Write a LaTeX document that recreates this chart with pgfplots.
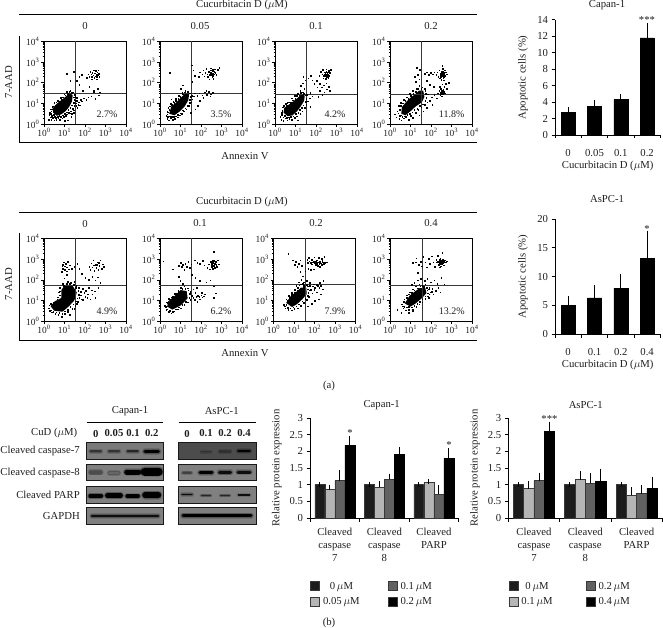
\documentclass[border=0pt]{standalone}
\usepackage{pgfplots}
\pgfplotsset{compat=1.18}
\usepackage{fontspec}
\setmainfont{Liberation Serif}
\definecolor{txt}{gray}{0.12}
\definecolor{cA}{gray}{0.11}
\definecolor{cB}{gray}{0.71}
\definecolor{cC}{gray}{0.38}
\definecolor{cD}{gray}{0.0}
\definecolor{edge}{gray}{0.22}
\newcommand{\fa}{\fontsize{10.7}{13.2}\selectfont\color{txt}}
\newcommand{\fb}{\fontsize{9.4}{10}\selectfont\color{txt}}
\newcommand{\fc}{\fontsize{10}{11}\selectfont\color{txt}}
\newcommand{\Mu}{$\mu$}
\newcommand{\dc}[1]{10\textsuperscript{#1}}
\pgfplotsset{flowbase/.style={scale only axis,width=82pt,height=82.5pt,
 xmin=0,xmax=4,ymin=0,ymax=4,xtick={0,1,2,3,4},ytick={0,1,2,3,4},xtick pos=bottom,ytick pos=left,
 xticklabels={\dc{0},\dc{1},\dc{2},\dc{3},\dc{4}},yticklabels={\dc{0},\dc{1},\dc{2},\dc{3},\dc{4}},
 minor xtick={0.30,0.48,0.60,0.70,0.78,0.85,0.90,0.95,1.30,1.48,1.60,1.70,1.78,1.85,1.90,1.95,2.30,2.48,2.60,2.70,2.78,2.85,2.90,2.95,3.30,3.48,3.60,3.70,3.78,3.85,3.90,3.95},
 minor ytick={0.30,0.48,0.60,0.70,0.78,0.85,0.90,0.95,1.30,1.48,1.60,1.70,1.78,1.85,1.90,1.95,2.30,2.48,2.60,2.70,2.78,2.85,2.90,2.95,3.30,3.48,3.60,3.70,3.78,3.85,3.90,3.95},
 tick align=outside,major tick length=2.6pt,minor tick length=1.3pt,
 tick style={black,line width=.5pt},axis line style={black,line width=.8pt},ticklabel style={font=\fb},
 xticklabel style={yshift=2pt},yticklabel style={xshift=1.5pt},clip=true}}
% #1 left px, #2 bottom px, #3 hline, #4 vline, #5 dense core outline, #6 dots
\newcommand{\flow}[6]{%
\begin{axis}[flowbase,at={(#1pt,-#2pt)},anchor=south west]
\addplot[fill=black,draw=none] coordinates {#5} --cycle;
\addplot[only marks,mark=square*,mark size=.3pt,mark options={draw=none,fill=black}] coordinates {#6};
\addplot[line width=.9pt,black!78] coordinates {(0,#3) (4,#3)};
\addplot[line width=.9pt,black!78] coordinates {(#4,0) (#4,4)};
\end{axis}}
\pgfplotsset{
 bbase/.style={scale only axis,axis x line=bottom,axis y line=left,axis line style={-,black,line width=.7pt},
   tick align=outside,tick style={black,line width=.7pt},major tick length=3.5pt,minor tick length=3.5pt,
   ticklabel style={font=\fa},/pgf/number format/assume math mode=true,ymin=0,
   error bars/error bar style={black,line width=.9pt},error bars/error mark options={black,mark size=2.7pt,line width=.9pt},
   label style={font=\fa}},
 topbar/.style={bbase,width=105.3pt,height=115.3pt,xmin=-0.5,xmax=3.5,xtick={0,1,2,3},minor xtick={-0.5,0.5,1.5,2.5,3.5},
   x tick style={draw=none},minor x tick style={draw=black,line width=.7pt},xticklabel style={yshift=-7pt},
   ybar=0pt,bar width=14pt,
   xlabel={Cucurbitacin D (\Mu M)},xlabel style={at={(axis description cs:0.5,0)},anchor=center,yshift=-30.5pt},
   ylabel={Apoptotic cells (\%)},ylabel style={at={(axis description cs:-0.304,0.5)},anchor=center}},
 lowbar/.style={bbase,height=100pt,ymax=3,ytick={0,0.5,1,1.5,2,2.5,3},yticklabels={0,0.5,1,1.5,2,2.5,3},
   xmin=0,xmax=3,xtick={0.5,1.5,2.5},minor xtick={0,1,2,3},x tick style={draw=none},minor x tick style={draw=black,line width=.7pt},
   xticklabels={{Cleaved\\caspase\\7},{Cleaved\\caspase\\8},{Cleaved\\PARP}},xticklabel style={align=center,yshift=-3pt},
   ylabel={Relative protein expression},ybar=0pt,
   legend columns=2,transpose legend,
   legend image code/.code={\draw[#1,line width=.9pt,draw=edge] (0pt,-4pt) rectangle (9pt,5pt);},
   legend style={draw=none,fill=none,inner sep=0pt,font=\fa,anchor=north west,row sep=5.5pt,
     nodes={inner xsep=3pt,inner ysep=0pt}}},
 sA/.style={fill=cA,draw=edge,line width=.5pt},
 sB/.style={fill=cB,draw=edge,line width=.5pt},
 sC/.style={fill=cC,draw=edge,line width=.5pt},
 sD/.style={fill=cD,draw=cD,line width=.5pt},
 eb/.style={error bars/.cd,y dir=plus,y explicit},
}
% blot band: centre x, y, half width, thickness, black amount
\newcommand{\band}[5]{%
 \addplot[line width=#4pt+3pt,black,opacity=.14,line cap=round] coordinates {(#1-#3,#2) (#1+#3,#2)};
 \addplot[line width=#4pt+1.4pt,black,opacity=.22,line cap=round] coordinates {(#1-#3,#2) (#1+#3,#2)};
 \addplot[line width=#4pt,black!#5,line cap=round] coordinates {(#1-#3,#2) (#1+#3,#2)};}
% blot frame: x1,x2,y1,y2,grey
\newcommand{\frm}[5]{\addplot[fill=black!#5,draw=black!90,line width=.9pt] coordinates {(#1,#3) (#2,#3) (#2,#4) (#1,#4)} --cycle;}
\newcommand{\T}[3]{\node[font=\fa,inner sep=0pt] at (axis cs:#1,#2) {#3};}
\newcommand{\Pc}[3]{\node[font=\fc,inner sep=0pt] at (axis cs:#1,#2) {#3};}
\begin{document}
\begin{tikzpicture}
\useasboundingbox (0,0) rectangle (663pt,-628pt);
% ---------- page-wide layer in pixel coordinates
\begin{axis}[at={(0pt,0pt)},anchor=north west,scale only axis,width=663pt,height=628pt,xmin=0,xmax=663,ymin=0,ymax=628,y dir=reverse,hide axis,clip=false]
\T{242}{5}{Cucurbitacin D (\Mu M)}
\addplot[black,line width=.9pt] coordinates {(19,14.7) (476.5,14.7)};
\T{85}{26}{0}\T{200}{26}{0.05}\T{316}{26}{0.1}\T{431}{26}{0.2}
\addplot[black,line width=1.2pt] coordinates {(19.7,36) (19.7,142.5) (476.5,142.5)};
\node[font=\fa,inner sep=0pt,rotate=90] at (axis cs:8.5,82) {7-AAD};
\T{245}{156}{Annexin V}
\T{242}{202}{Cucurbitacin D (\Mu M)}
\addplot[black,line width=.9pt] coordinates {(19,212.3) (476.5,212.3)};
\T{85}{223.5}{0}\T{200}{223.5}{0.1}\T{316}{223.5}{0.2}\T{431}{223.5}{0.4}
\addplot[black,line width=1.2pt] coordinates {(19.7,233) (19.7,340.3) (476.5,340.3)};
\node[font=\fa,inner sep=0pt,rotate=90] at (axis cs:8.5,284) {7-AAD};
\T{245}{353}{Annexin V}
\T{329}{385.5}{(a)}\T{329}{622.5}{(b)}
\T{130}{410.7}{Capan-1}\T{221.7}{410.7}{AsPC-1}
\addplot[black,line width=.8pt] coordinates {(86.5,422.7) (163.3,422.7)};
\addplot[black,line width=.8pt] coordinates {(178.5,422.7) (256,422.7)};
\node[font=\fa,anchor=east,inner sep=0pt] at (axis cs:77.5,432.7) {CuD (\Mu M)};
\T{95.7}{433.5}{\textbf{0}}\T{114}{433.5}{\textbf{0.05}}\T{133}{433.5}{\textbf{0.1}}\T{151.7}{433.5}{\textbf{0.2}}
\T{187}{433.5}{\textbf{0}}\T{206}{433.5}{\textbf{0.1}}\T{225}{433.5}{\textbf{0.2}}\T{244}{433.5}{\textbf{0.4}}
\node[font=\fa,anchor=east,inner sep=0pt] at (axis cs:80,451) {Cleaved caspase-7};
\node[font=\fa,anchor=east,inner sep=0pt] at (axis cs:80,473) {Cleaved caspase-8};
\node[font=\fa,anchor=east,inner sep=0pt] at (axis cs:80,495) {Cleaved PARP};
\node[font=\fa,anchor=east,inner sep=0pt] at (axis cs:80,516) {GAPDH};
% Capan blots
\frm{86.7}{163.3}{442.7}{459.3}{52}\frm{86.7}{163.3}{464}{480.7}{50}\frm{86.7}{163.3}{486.7}{503.3}{50}\frm{86.7}{163.3}{507.7}{524.3}{50}
\band{95.7}{451.3}{5}{2.2}{80}\band{114}{451.3}{5}{2}{80}\band{132.7}{451.3}{5}{2.2}{85}\band{151.7}{451.3}{6.5}{3.6}{100}
\band{95.7}{472.3}{5}{3}{70}\band{114}{473}{4.5}{2.2}{60}\band{132.7}{472}{6}{5}{100}\band{151.7}{471.5}{7}{8}{100}
\band{95.7}{496}{5.5}{3.8}{100}\band{114}{495.5}{6.5}{4.8}{100}\band{132.7}{496}{5.5}{3.6}{100}\band{151.7}{495}{6.5}{6}{100}
\band{125}{516}{33}{2.4}{95}
% AsPC blots
\frm{178.3}{256}{442.7}{459.3}{70}\frm{178.3}{256}{464}{480.7}{50}\frm{178.3}{256}{486.7}{503.3}{50}\frm{178.3}{256}{507.7}{524.3}{50}
\band{206}{452}{4.5}{1}{76}\band{225}{451.5}{5}{1.8}{82}\band{244}{451}{5.5}{2.8}{100}
\band{187}{472.8}{4}{1.5}{75}\band{206}{472.5}{6}{3}{100}\band{225}{472.3}{5.5}{3}{95}\band{244}{472.3}{6}{2.8}{95}
\band{187}{494.5}{5}{1.2}{95}\band{206}{495.5}{4.5}{.9}{85}\band{225}{495.5}{4.5}{.9}{85}\band{244}{495}{5.5}{1.3}{95}
\band{217}{515.5}{34}{3}{100}
% significance marks
\T{647}{20}{***}\T{647}{228.5}{*}\T{350}{433}{*}\T{449}{445}{*}\T{549.5}{419}{***}
% bar chart titles
\T{607}{4.7}{Capan-1}\T{607}{199.3}{AsPC-1}\T{381.7}{405.3}{Capan-1}\T{585.7}{405.3}{AsPC-1}
\end{axis}
% ---------- flow cytometry panels
\flow{44}{124}{1.47}{1.53}
{(0.45,0.55)(0.62,0.40)(0.85,0.47)(1.05,0.62)(1.22,0.82)(1.36,1.08)(1.40,1.40)(1.24,1.50)(1.05,1.32)(0.90,1.20)(0.62,0.98)(0.42,0.76)}
{(0.22,0.20)(0.30,0.32)(0.25,0.45)(0.35,0.22)(0.42,0.30)(0.50,0.18)(0.60,0.22)(0.70,0.30)(0.78,0.20)(0.88,0.28)(0.95,0.35)(1.05,0.40)(1.12,0.48)(1.20,0.55)(1.30,0.62)(1.40,0.75)(1.48,0.88)(1.55,1.00)(1.62,1.12)(1.70,1.05)(1.78,1.18)(1.60,1.28)(1.50,1.42)(1.45,0.55)(1.32,0.35)(1.15,0.18)(1.00,0.15)(0.40,0.85)(0.32,0.72)(0.50,1.02)(0.68,1.12)(0.82,1.28)(0.98,1.45)(1.12,1.58)(1.28,1.62)(1.40,1.55)(0.28,0.55)(0.38,0.42)(1.62,0.78)(1.75,0.92)(1.85,1.10)(1.95,1.25)(2.05,1.18)(2.15,1.30)(2.30,1.35)(2.50,1.22)(2.68,1.40)(2.42,1.62)(2.62,1.70)(2.20,1.80)(1.88,1.62)(1.72,1.90)(1.60,2.10)(1.72,2.30)(1.85,2.40)(1.45,2.55)(1.10,2.45)(1.28,2.10)(2.08,2.25)(2.15,2.42)(2.20,2.30)(2.25,2.55)(2.30,2.42)(2.32,2.28)(2.36,2.50)(2.40,2.36)(2.42,2.60)(2.45,2.25)(2.48,2.46)(2.50,2.32)(2.53,2.58)(2.55,2.40)(2.58,2.28)(2.60,2.52)(2.62,2.38)(2.65,2.60)(2.68,2.45)(2.70,2.30)(2.56,2.18)(2.34,2.18)(2.42,1.58)(2.72,1.55)
(0.33,0.50)(0.37,0.35)(0.46,0.44)(0.52,0.36)(0.58,0.30)(0.66,0.34)(0.74,0.40)(0.82,0.36)(0.92,0.42)(1.00,0.50)(1.10,0.58)(1.18,0.68)(1.28,0.78)(1.34,0.92)(1.44,1.02)(1.48,1.18)(1.44,1.30)(1.52,1.32)(0.36,0.62)(0.38,0.72)(0.44,0.86)(0.56,0.92)(0.60,1.06)(0.74,1.08)(0.84,1.18)(0.92,1.30)(1.04,1.40)(1.16,1.46)(1.22,1.56)(1.34,1.52)(1.54,1.12)(1.58,0.90)(1.66,0.95)(1.44,0.66)(1.26,0.52)(1.36,0.50)}
\flow{160}{124}{1.46}{1.52}
{(0.45,0.50)(0.70,0.42)(0.95,0.60)(1.20,0.85)(1.38,1.15)(1.42,1.45)(1.25,1.50)(1.05,1.30)(0.80,1.05)(0.55,0.85)}
{(0.30,0.40)(0.35,0.25)(0.42,0.18)(0.52,0.30)(0.62,0.20)(0.72,0.26)(0.85,0.32)(0.95,0.42)(1.05,0.50)(1.15,0.62)(1.28,0.72)(1.40,0.90)(1.50,1.05)(1.58,1.20)(1.65,1.35)(0.35,0.62)(0.40,0.80)(0.52,0.98)(0.65,1.08)(0.78,1.22)(0.92,1.38)(1.08,1.52)(1.22,1.62)(1.38,1.58)(0.55,1.20)(1.00,1.70)(1.10,1.88)(0.48,2.50)(1.55,2.85)(1.62,2.60)(1.70,2.35)(1.58,2.05)(1.70,1.50)(1.82,1.38)(1.92,1.50)(2.05,1.40)(2.18,1.55)(2.28,1.42)(2.38,1.58)(2.48,1.45)(2.58,1.52)(2.45,1.35)(2.25,1.62)(2.10,1.28)(1.95,1.12)(1.85,0.88)(1.72,0.72)(1.50,0.55)(1.90,2.30)(1.95,2.52)(2.05,2.42)(2.10,2.60)(2.15,2.32)(2.20,2.50)(2.25,2.68)(2.30,2.42)(2.34,2.28)(2.38,2.55)(2.42,2.40)(2.46,2.70)(2.50,2.48)(2.54,2.30)(2.58,2.58)(2.62,2.42)(2.66,2.65)(2.70,2.50)(2.75,2.38)(2.80,2.62)(2.88,2.72)(2.40,2.18)(2.60,2.20)
(0.36,0.48)(0.38,0.34)(0.46,0.38)(0.56,0.36)(0.66,0.34)(0.76,0.38)(0.86,0.46)(0.98,0.52)(1.10,0.66)(1.22,0.76)(1.32,0.90)(1.44,1.02)(1.46,1.18)(1.50,1.32)(1.46,1.50)(1.56,1.38)(0.38,0.58)(0.44,0.70)(0.48,0.86)(0.58,0.94)(0.70,1.02)(0.76,1.12)(0.88,1.24)(0.98,1.32)(1.10,1.44)(1.20,1.54)(1.32,1.56)(2.52,2.38)(2.46,2.50)(2.56,2.46)(2.60,2.34)(2.48,2.60)(2.64,2.54)(2.56,2.66)}
\flow{275}{124}{1.42}{1.52}
{(0.42,0.55)(0.62,0.38)(0.85,0.42)(1.08,0.62)(1.25,0.85)(1.42,1.12)(1.45,1.38)(1.30,1.46)(1.12,1.28)(0.90,1.10)(0.65,0.92)(0.45,0.78)}
{(0.25,0.35)(0.30,0.22)(0.40,0.15)(0.50,0.28)(0.60,0.18)(0.70,0.25)(0.82,0.20)(0.95,0.30)(1.05,0.38)(1.12,0.18)(1.22,0.50)(1.32,0.62)(1.45,0.78)(1.52,0.95)(1.60,1.10)(1.68,1.25)(1.55,1.42)(0.32,0.55)(0.38,0.82)(0.52,0.98)(0.68,1.05)(0.82,1.25)(0.95,1.38)(1.10,1.48)(1.22,1.62)(1.35,1.55)(1.42,1.72)(1.25,1.85)(1.35,1.98)(1.48,2.12)(1.38,2.30)(1.62,2.22)(1.75,2.35)(1.82,2.12)(1.92,1.95)(2.05,1.78)(2.18,1.62)(2.28,1.78)(2.40,1.55)(2.52,1.68)(2.62,1.80)(2.38,1.88)(2.18,1.95)(2.02,2.10)(2.50,1.98)(2.68,1.60)(2.30,1.42)(2.10,1.32)(1.72,1.52)(1.82,1.35)(1.72,0.85)(2.30,2.42)(2.22,2.55)(2.32,2.62)(2.38,2.35)(2.42,2.52)(2.46,2.42)(2.50,2.65)(2.52,2.30)(2.55,2.50)(2.58,2.40)(2.62,2.58)(2.65,2.35)(2.68,2.48)(2.72,2.62)(2.36,2.22)(2.48,2.20)(2.60,2.25)(2.15,2.35)
(0.34,0.44)(0.40,0.32)(0.48,0.40)(0.56,0.30)(0.66,0.32)(0.76,0.34)(0.88,0.38)(1.00,0.50)(1.14,0.56)(1.20,0.68)(1.30,0.78)(1.38,0.92)(1.50,1.08)(1.52,1.24)(1.48,1.40)(0.36,0.64)(0.42,0.88)(0.56,0.90)(0.60,1.02)(0.76,1.04)(0.86,1.16)(0.98,1.24)(1.06,1.38)(1.18,1.40)(1.26,1.52)(1.40,1.48)(2.44,2.44)(2.48,2.36)(2.54,2.42)(2.50,2.54)(2.40,2.42)(2.58,2.52)(2.44,2.34)(2.56,2.34)}
\flow{390}{124}{1.42}{1.55}
{(0.55,0.50)(0.75,0.42)(1.00,0.62)(1.25,0.85)(1.55,1.05)(1.68,1.32)(1.62,1.62)(1.42,1.62)(1.20,1.42)(1.00,1.28)(0.80,1.08)(0.58,0.82)}
{(0.22,0.48)(0.30,0.32)(0.35,0.62)(0.45,0.25)(0.48,0.38)(0.55,0.18)(0.68,0.28)(0.78,0.35)(0.90,0.22)(1.00,0.40)(1.12,0.30)(1.25,0.55)(1.38,0.68)(1.52,0.82)(1.70,0.95)(1.82,1.05)(1.95,1.12)(2.05,0.95)(1.78,0.78)(1.62,0.62)(1.42,0.42)(0.42,0.90)(0.52,1.02)(0.68,1.18)(0.82,1.30)(0.95,1.48)(1.12,1.62)(1.28,1.72)(1.42,1.85)(1.58,1.78)(1.72,1.62)(1.85,1.45)(2.02,1.30)(2.15,1.42)(2.28,1.25)(2.32,1.50)(2.40,1.62)(2.45,1.42)(2.50,1.72)(2.55,1.55)(2.60,1.68)(2.65,1.82)(2.42,1.82)(2.52,1.35)(2.68,1.50)(2.72,1.95)(2.78,1.72)(2.85,2.00)(2.55,1.92)(1.80,2.10)(1.95,1.90)(2.12,1.80)(1.25,2.05)(1.35,2.40)(1.45,2.62)(1.30,2.72)(1.42,2.18)(1.20,2.28)(1.70,2.45)(1.80,2.52)(1.90,2.38)(1.98,2.48)(2.08,2.42)(2.15,2.52)(2.25,2.38)(2.30,2.52)(2.36,2.30)(2.40,2.60)(2.44,2.42)(2.48,2.28)(2.52,2.55)(2.55,2.38)(2.58,2.68)(2.60,2.25)(2.63,2.48)(2.66,2.60)(2.68,2.35)(2.72,2.52)(2.76,2.42)(2.55,2.82)(2.50,2.15)(2.62,2.12)(2.42,2.22)(2.56,2.46)(2.50,2.40)(2.60,2.40)(2.52,2.32)(2.62,2.30)
(0.40,0.52)(0.44,0.40)(0.52,0.42)(0.60,0.34)(0.70,0.38)(0.84,0.44)(0.96,0.50)(1.08,0.58)(1.18,0.70)(1.32,0.74)(1.44,0.90)(1.60,0.96)(1.72,1.12)(1.76,1.28)(1.74,1.46)(1.68,1.70)(0.46,0.70)(0.52,0.90)(0.62,1.00)(0.74,1.12)(0.88,1.22)(1.02,1.36)(1.14,1.48)(1.24,1.58)(1.36,1.70)(1.52,1.70)(2.50,1.62)(2.46,1.52)(2.56,1.48)(2.58,1.60)(2.46,1.70)(2.52,1.44)(2.62,1.56)(2.54,2.50)(2.58,2.44)(2.48,2.46)(2.46,2.36)(2.64,2.38)(2.58,2.32)(2.60,2.54)}
\flow{44}{321}{1.73}{1.52}
{(0.32,0.72)(0.50,0.50)(0.90,0.45)(1.20,0.70)(1.48,1.00)(1.60,1.38)(1.40,1.70)(1.02,1.75)(0.85,1.50)(0.85,1.12)(0.52,0.95)}
{(0.28,0.50)(0.38,0.42)(0.55,0.35)(0.70,0.30)(0.85,0.22)(1.00,0.35)(1.15,0.45)(1.25,0.30)(1.38,0.60)(1.52,0.75)(1.65,0.95)(1.72,1.12)(1.80,1.25)(1.90,1.02)(2.00,1.18)(2.12,1.30)(2.25,1.05)(2.35,1.30)(2.50,1.12)(1.78,1.42)(1.88,1.58)(2.02,1.48)(2.18,1.62)(2.32,1.50)(2.48,1.45)(2.65,1.62)(1.70,1.62)(1.58,1.72)(0.68,1.15)(0.72,1.40)(0.78,1.62)(0.92,1.82)(1.15,1.90)(1.30,1.85)(1.48,1.92)(0.98,2.08)(1.10,2.25)(0.85,2.40)(0.90,2.55)(0.92,2.72)(0.95,2.85)(1.00,2.50)(1.02,2.65)(1.05,2.78)(1.10,2.42)(1.12,2.60)(1.16,2.88)(1.20,2.52)(1.25,2.70)(0.88,2.68)(1.35,2.55)(1.48,2.62)(1.62,2.78)(1.72,2.55)(1.85,2.28)(2.00,2.10)(2.18,2.00)(2.35,2.15)(2.50,1.98)(2.62,2.12)(2.75,1.85)(2.20,2.62)(2.25,2.48)(2.30,2.80)(2.35,2.60)(2.40,2.95)(2.45,2.45)(2.50,2.72)(2.55,2.58)(2.60,2.85)(2.65,2.50)(2.70,2.68)(2.75,2.95)(2.80,2.55)(2.85,2.75)(2.90,2.62)(2.42,2.70)(2.58,2.72)(2.68,2.82)
(0.24,0.62)(0.26,0.76)(0.34,0.52)(0.44,0.46)(0.60,0.42)(0.74,0.40)(0.88,0.36)(1.02,0.48)(1.16,0.56)(1.28,0.68)(1.42,0.82)(1.54,0.96)(1.62,1.10)(1.68,1.28)(1.66,1.46)(1.54,1.62)(1.44,1.76)(1.26,1.80)(1.10,1.82)(0.96,1.70)(0.78,1.44)(0.78,1.26)(0.64,1.02)(0.44,0.92)(0.34,0.84)(1.72,1.30)(1.82,1.06)(1.96,1.36)(2.10,1.12)(1.60,0.84)(1.48,0.60)}
\flow{160}{321}{1.73}{1.51}
{(0.35,0.70)(0.60,0.55)(1.00,0.75)(1.35,1.10)(1.30,1.45)(1.00,1.50)(0.70,1.20)(0.40,0.95)}
{(0.22,0.75)(0.30,0.55)(0.42,0.45)(0.55,0.38)(0.70,0.48)(0.85,0.58)(1.02,0.62)(1.18,0.78)(1.35,0.92)(1.48,1.02)(0.30,0.92)(0.42,1.08)(0.58,1.15)(0.72,1.32)(0.88,1.48)(1.02,1.62)(1.18,1.68)(1.35,1.60)(1.48,1.42)(1.55,1.22)(1.70,1.02)(1.82,0.95)(1.95,1.05)(1.85,1.22)(2.05,1.15)(2.18,1.30)(2.02,1.38)(1.72,1.38)(1.62,1.55)(1.80,1.62)(1.12,1.82)(0.98,1.95)(0.90,2.15)(0.62,2.52)(0.15,2.90)(0.92,2.68)(1.00,2.82)(1.05,2.62)(1.12,2.72)(1.18,2.50)(1.22,2.78)(1.30,2.62)(1.38,2.88)(1.45,2.58)(1.52,2.75)(1.70,2.95)(1.82,2.82)(1.95,2.78)(2.08,2.92)(2.15,2.70)(1.55,2.25)(1.72,2.10)(1.95,1.95)(2.25,1.88)(2.45,1.98)(2.62,1.68)(2.62,1.12)(2.72,1.35)(2.30,2.58)(2.38,2.75)(2.42,2.52)(2.46,2.90)(2.50,2.62)(2.54,2.80)(2.56,2.55)(2.60,2.95)(2.64,2.70)(2.68,2.58)(2.72,2.88)(2.76,2.62)(2.80,2.95)(2.85,2.75)(2.62,3.35)(2.50,2.72)(2.60,2.68)(2.55,2.62)(2.65,2.62)(2.48,2.88)(2.58,2.86)(2.70,2.76)
(0.28,0.68)(0.36,0.58)(0.48,0.50)(0.62,0.46)(0.76,0.58)(0.90,0.66)(1.08,0.78)(1.26,0.94)(1.42,1.14)(1.44,1.32)(1.38,1.50)(1.22,1.56)(1.08,1.56)(0.92,1.40)(0.80,1.32)(0.62,1.18)(0.50,1.04)(0.36,0.88)(1.62,1.12)(1.76,1.18)(1.92,1.18)(2.00,1.26)(2.12,1.20)(2.60,2.84)(2.66,2.78)(2.54,2.72)(2.62,2.92)(2.74,2.72)(2.50,2.82)(2.56,2.92)}
\flow{273.5}{321}{1.76}{1.56}
{(0.62,0.88)(0.90,0.68)(1.15,0.82)(1.40,1.05)(1.62,1.30)(1.60,1.60)(1.35,1.62)(1.10,1.40)(0.85,1.22)}
{(0.50,0.80)(0.58,0.62)(0.72,0.55)(0.88,0.52)(1.00,0.60)(1.18,0.62)(1.32,0.75)(1.48,0.88)(1.62,1.02)(1.72,1.18)(0.62,1.05)(0.75,1.22)(0.88,1.38)(1.02,1.52)(1.18,1.62)(1.32,1.78)(1.48,1.72)(1.62,1.75)(1.75,1.50)(1.88,1.35)(1.98,1.52)(2.10,1.40)(2.22,1.62)(2.30,1.30)(2.40,1.55)(2.20,1.05)(2.02,0.98)(1.85,0.85)(1.68,0.72)(1.10,1.72)(1.22,1.88)(1.35,2.00)(1.48,1.88)(1.62,1.95)(1.78,1.85)(1.95,1.78)(2.10,1.75)(2.25,1.85)(2.42,1.95)(1.42,2.18)(1.30,2.38)(1.55,2.42)(0.72,3.25)(0.95,2.95)(1.02,2.72)(1.08,2.88)(1.15,2.62)(1.22,2.78)(1.30,2.95)(1.38,2.68)(1.65,2.98)(1.72,3.08)(1.85,2.98)(1.98,3.10)(2.10,2.95)(2.20,3.08)(2.35,3.02)(2.48,3.12)(1.70,2.55)(1.82,2.50)(1.95,2.52)(1.68,2.82)(1.80,2.82)(1.90,2.85)(2.00,2.82)(2.10,2.82)(2.20,2.85)(2.30,2.80)(2.40,2.85)(2.50,2.82)(2.60,2.85)(2.05,2.72)(2.15,2.68)(2.25,2.62)(2.35,2.72)(1.95,2.88)(2.05,2.90)(2.25,2.88)(2.38,2.92)
(0.54,0.72)(0.62,0.78)(0.70,0.64)(0.82,0.62)(0.96,0.66)(1.10,0.72)(1.24,0.82)(1.40,0.96)(1.54,1.08)(1.66,1.22)(1.70,1.38)(1.68,1.54)(1.66,1.68)(1.48,1.64)(1.30,1.58)(1.16,1.50)(1.02,1.38)(0.90,1.28)(0.76,1.12)(0.68,0.98)(1.82,1.52)(1.90,1.68)(2.02,1.62)(2.16,1.72)(2.30,1.70)(1.76,1.72)(1.42,1.80)(1.26,1.74)(2.12,2.76)(2.22,2.78)(2.32,2.76)(1.75,2.90)(1.85,2.76)(2.45,2.78)}
\flow{390}{321}{1.72}{1.57}
{(0.72,0.85)(1.00,0.70)(1.25,0.85)(1.52,1.08)(1.78,1.35)(1.72,1.60)(1.45,1.60)(1.20,1.42)(0.95,1.22)}
{(0.58,0.82)(0.65,0.62)(0.78,0.52)(0.92,0.55)(0.35,0.55)(0.55,0.40)(1.10,0.55)(1.28,0.68)(1.42,0.82)(1.58,0.92)(1.72,1.08)(1.85,1.20)(0.70,1.05)(0.82,1.25)(0.95,1.40)(1.10,1.55)(1.25,1.68)(1.42,1.78)(1.58,1.72)(1.72,1.78)(1.88,1.55)(1.98,1.40)(2.10,1.30)(2.22,1.48)(2.35,1.62)(2.45,1.40)(1.90,1.12)(1.05,1.75)(1.18,1.85)(1.35,1.98)(1.50,2.05)(1.68,1.95)(1.82,2.05)(1.98,1.88)(2.15,1.98)(2.30,1.82)(2.50,2.10)(2.65,1.78)(1.35,2.35)(1.25,2.85)(1.12,2.82)(1.28,3.05)(1.40,2.72)(1.50,2.88)(1.55,2.65)(1.62,3.12)(1.72,2.85)(1.78,2.60)(1.88,3.02)(1.95,2.78)(2.02,3.15)(2.10,2.85)(2.18,2.62)(2.25,2.98)(2.32,3.18)(2.42,2.60)(2.45,3.05)(2.55,3.30)(2.62,2.70)(2.68,2.95)(2.28,2.85)(2.34,2.88)(2.40,2.82)(2.45,2.90)(2.50,2.85)(2.55,2.92)(2.60,2.82)(2.65,2.88)(2.72,2.85)(2.78,2.90)(2.42,2.98)(2.52,2.78)(2.58,2.98)(2.48,2.65)(2.38,2.72)
(0.62,0.72)(0.70,0.68)(0.80,0.66)(0.92,0.68)(1.06,0.66)(1.18,0.74)(1.32,0.84)(1.44,0.94)(1.58,1.06)(1.72,1.20)(1.84,1.34)(1.82,1.50)(1.80,1.62)(1.64,1.66)(1.48,1.68)(1.34,1.60)(1.18,1.50)(1.06,1.38)(0.92,1.30)(0.80,1.14)(0.68,0.94)(1.92,1.30)(2.02,1.42)(1.92,1.62)(2.05,1.58)(1.10,0.48)(0.90,0.40)(2.44,2.86)(2.48,2.92)(2.52,2.88)(2.56,2.84)(2.46,2.78)(2.60,2.92)(2.42,2.90)}
% ---------- percentages, over the panels
\begin{axis}[at={(0pt,0pt)},anchor=north west,scale only axis,width=663pt,height=628pt,xmin=0,xmax=663,ymin=0,ymax=628,y dir=reverse,hide axis,clip=false]
\Pc{107}{114}{2.7\%}\Pc{221}{114}{3.5\%}\Pc{335}{114}{4.2\%}\Pc{451.7}{114}{11.8\%}
\Pc{107}{311.3}{4.9\%}\Pc{221}{311.3}{6.2\%}\Pc{335}{311.3}{7.9\%}\Pc{451.7}{311.3}{13.2\%}
\end{axis}
% ---------- apoptosis bars
\begin{axis}[topbar,at={(555pt,-135pt)},anchor=south west,ymax=14,ytick={0,2,4,6,8,10,12,14},xticklabels={0,0.05,0.1,0.2}]
\addplot+[sD,eb] coordinates {(0,2.75)+-(0,0.35) (1,3.5)+-(0,0.45) (2,4.3)+-(0,0.4) (3,11.8)+-(0,1.5)};
\end{axis}
\begin{axis}[topbar,at={(555pt,-334.3pt)},anchor=south west,ymax=20,ytick={0,5,10,15,20},xticklabels={0,0.1,0.2,0.4}]
\addplot+[sD,eb] coordinates {(0,5)+-(0,1.1) (1,6.3)+-(0,1.7) (2,8)+-(0,2) (3,13.2)+-(0,4.3)};
\end{axis}
% ---------- relative protein expression
\begin{axis}[lowbar,at={(310pt,-518pt)},anchor=south west,width=148.7pt,bar width=10pt,ylabel style={at={(axis description cs:-0.224,0.5)},anchor=center},
 legend style={at={(0,-0.63)},/tikz/every even column/.style={column sep=25pt}}]
\addplot+[sA,eb] coordinates {(0.5,1)+-(0,0) (1.5,1)+-(0,0) (2.5,1)+-(0,0)};
\addplot+[sB,eb] coordinates {(0.5,0.87)+-(0,0.05) (1.5,0.93)+-(0,0.09) (2.5,1.06)+-(0,0.04)};
\addplot+[sC,eb] coordinates {(0.5,1.12)+-(0,0.23) (1.5,1.16)+-(0,0.09) (2.5,0.72)+-(0,0.18)};
\addplot+[sD,eb] coordinates {(0.5,2.18)+-(0,0.21) (1.5,1.9)+-(0,0.15) (2.5,1.79)+-(0,0.22)};
\addlegendentry{0\,\Mu M}\addlegendentry{0.05\,\Mu M}\addlegendentry{0.1\,\Mu M}\addlegendentry{0.2\,\Mu M}
\end{axis}
\begin{axis}[lowbar,at={(508.3pt,-518pt)},anchor=south west,width=154pt,bar width=10.3pt,ylabel style={at={(axis description cs:-0.216,0.5)},anchor=center},
 legend style={at={(0,-0.63)},/tikz/every even column/.style={column sep=30pt}}]
\addplot+[sA,eb] coordinates {(0.5,1)+-(0,0) (1.5,1)+-(0,0) (2.5,1)+-(0,0)};
\addplot+[sB,eb] coordinates {(0.5,0.88)+-(0,0.15) (1.5,1.15)+-(0,0.17) (2.5,0.68)+-(0,0.17)};
\addplot+[sC,eb] coordinates {(0.5,1.12)+-(0,0.16) (1.5,1.05)+-(0,0.22) (2.5,0.73)+-(0,0.18)};
\addplot+[sD,eb] coordinates {(0.5,2.6)+-(0,0.21) (1.5,1.11)+-(0,0.29) (2.5,0.89)+-(0,0.27)};
\addlegendentry{0\,\Mu M}\addlegendentry{0.1\,\Mu M}\addlegendentry{0.2\,\Mu M}\addlegendentry{0.4\,\Mu M}
\end{axis}
\end{tikzpicture}
\end{document}
